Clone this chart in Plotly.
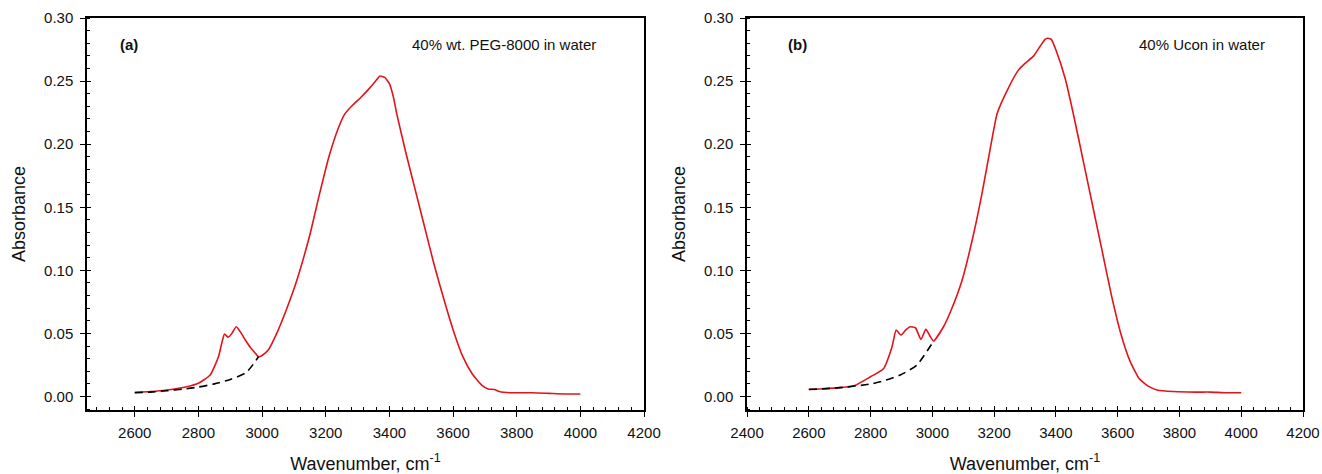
import plotly.graph_objects as go

# ---------- data ----------
# (a) 40% wt. PEG-8000 in water
wn_a = [2600, 2650, 2700, 2764, 2800, 2837, 2863, 2875, 2882, 2894, 2905, 2919, 2935, 2947, 2963,
        2980, 2989, 3000, 3020, 3046, 3075, 3109, 3150, 3180, 3210, 3240, 3260, 3285, 3310, 3340,
        3360, 3370, 3385, 3400, 3412, 3424, 3450, 3480, 3510, 3540, 3570, 3600, 3630, 3660, 3690,
        3710, 3730, 3745, 3780, 3850, 3900, 3950, 4000]
abs_a = [0.0033, 0.004, 0.0052, 0.0078, 0.0105, 0.017, 0.0315, 0.044, 0.0495, 0.047, 0.050, 0.0553, 0.050, 0.045, 0.039,
         0.034, 0.0315, 0.0325, 0.037, 0.050, 0.068, 0.092, 0.128, 0.160, 0.190, 0.213, 0.224, 0.231, 0.237, 0.245,
         0.251, 0.254, 0.253, 0.248, 0.238, 0.223, 0.195, 0.165, 0.135, 0.105, 0.078, 0.053, 0.032, 0.018, 0.009,
         0.006, 0.0055, 0.004, 0.003, 0.003, 0.0025, 0.002, 0.002]
base_wn_a = [2600, 2650, 2700, 2750, 2800, 2850, 2900, 2950, 2989]
base_a = [0.003, 0.0035, 0.0045, 0.0058, 0.0075, 0.0100, 0.0135, 0.0190, 0.0315]

# (b) 40% Ucon in water
wn_b = [2600, 2650, 2700, 2745, 2800, 2842, 2869, 2883, 2898, 2915, 2928, 2945, 2963, 2979, 2992,
        3004, 3036, 3060, 3096, 3130, 3160, 3190, 3210, 3244, 3278, 3300, 3328, 3350, 3365, 3372,
        3385, 3401, 3430, 3456, 3490, 3520, 3550, 3580, 3610, 3640, 3670, 3700, 3730, 3780, 3850,
        3900, 3950, 4000]
abs_b = [0.0057, 0.0062, 0.007, 0.0083, 0.0157, 0.022, 0.039, 0.0527, 0.0487, 0.053, 0.0553, 0.0545, 0.0453, 0.0532, 0.048,
         0.044, 0.0553, 0.068, 0.092, 0.125, 0.160, 0.200, 0.2245, 0.2435, 0.2585, 0.264, 0.270, 0.278, 0.283, 0.284,
         0.283, 0.274, 0.252, 0.2245, 0.185, 0.150, 0.115, 0.080, 0.050, 0.028, 0.014, 0.008, 0.005, 0.004, 0.0035,
         0.0035, 0.003, 0.003]
base_wn_b = [2600, 2700, 2800, 2850, 2896, 2950, 3004]
base_b = [0.0055, 0.007, 0.0099, 0.013, 0.017, 0.025, 0.044]

x_ticks = [2400, 2600, 2800, 3000, 3200, 3400, 3600, 3800, 4000, 4200]
y_ticks = [0.00, 0.05, 0.10, 0.15, 0.20, 0.25, 0.30]
labels = ["(a)", "(b)"]
notes = ["40% wt. PEG-8000 in water", "40% Ucon in water"]

RED = "#e3131b"
FONT = "Liberation Sans, Arial, sans-serif"
xr_a = [2450, 4200]
xr_b = [2400, 4200]
yr = [-0.0107, 0.30]

fig = go.Figure()
red_line = dict(color=RED, width=1.6, shape="spline", smoothing=0.5)
dash_line = dict(color="black", width=1.6, dash="8px,5px", shape="spline", smoothing=0.6)
fig.add_trace(go.Scatter(x=wn_a, y=abs_a, mode="lines", line=red_line,
                         xaxis="x", yaxis="y", showlegend=False))
fig.add_trace(go.Scatter(x=base_wn_a, y=base_a, mode="lines", line=dash_line,
                         xaxis="x3", yaxis="y3", showlegend=False))
fig.add_trace(go.Scatter(x=wn_b, y=abs_b, mode="lines", line=red_line,
                         xaxis="x2", yaxis="y2", showlegend=False))
fig.add_trace(go.Scatter(x=base_wn_b, y=base_b, mode="lines", line=dash_line,
                         xaxis="x4", yaxis="y4", showlegend=False))

tickfont = dict(family=FONT, size=15, color="#111")
titlefont = dict(family=FONT, size=18, color="#111")

def xmain(dom, rng):
    return dict(domain=dom, range=rng, tickvals=x_ticks, ticks="outside", ticklen=5, tickwidth=1.3,
                tickcolor="black", showline=True, linecolor="black", linewidth=1.5, mirror=True,
                showgrid=False, zeroline=False, tickfont=tickfont, automargin=False,
                ticklabelstandoff=3, ticklabeloverflow="allow",
                minor=dict(ticks="inside", dtick=40, tick0=2400, ticklen=3, tickwidth=1, tickcolor="black",
                           showgrid=False),
                title=dict(text="Wavenumber, cm<sup>-1</sup>", font=titlefont, standoff=18))

def ymain(dom, anchor):
    return dict(domain=dom, range=yr, anchor=anchor, tickvals=y_ticks, tickformat=".2f", ticks="outside",
                ticklen=5, tickwidth=1.3, tickcolor="black", showline=True, linecolor="black", linewidth=1.5,
                mirror=True, showgrid=False, zeroline=False, tickfont=tickfont, automargin=False,
                ticklabelstandoff=4,
                minor=dict(ticks="inside", dtick=0.01, tick0=0, ticklen=3, tickwidth=1, tickcolor="black",
                           showgrid=False),
                title=dict(text="Absorbance", font=titlefont, standoff=14))

def xover(base, rng):
    return dict(overlaying=base, range=rng, tickvals=x_ticks, ticks="inside", ticklen=4, tickwidth=1.3,
                tickcolor="black", showticklabels=False, showline=False, showgrid=False, zeroline=False,
                automargin=False)

def yover(base, rng, anchor):
    return dict(overlaying=base, range=rng, anchor=anchor, tickvals=y_ticks, ticks="inside", ticklen=4,
                tickwidth=1.3, tickcolor="black", showticklabels=False, showline=False, showgrid=False,
                zeroline=False, automargin=False)

dom_a = [0.0, 0.4581]
dom_b = [0.5428, 1.0]

fig.update_layout(
    width=1322, height=474, template="none",
    paper_bgcolor="white", plot_bgcolor="white",
    margin=dict(l=87, r=19, t=18, b=64),
    font=dict(family=FONT, color="#111"),
    xaxis=xmain(dom_a, xr_a),
    yaxis=ymain([0, 1], "x"),
    xaxis2=xmain(dom_b, xr_b),
    yaxis2=ymain([0, 1], "x2"),
    xaxis3=xover("x", xr_a),
    yaxis3=yover("y", yr, "x3"),
    xaxis4=xover("x2", xr_b),
    yaxis4=yover("y2", yr, "x4"),
    showlegend=False,
)
fig.update_layout(xaxis=dict(anchor="y"), xaxis2=dict(anchor="y2"),
                  xaxis3=dict(anchor="y3"), xaxis4=dict(anchor="y4"))

ann_pos = [("x", "y", 2548, 3465), ("x2", "y2", 2526, 3662)]
for (xr_, yr_, xl, xn), lab, note in zip(ann_pos, labels, notes):
    fig.add_annotation(x=xl, y=0.279, xref=xr_, yref=yr_, text="<b>" + lab + "</b>", showarrow=False,
                       xanchor="left", yanchor="middle", font=dict(family=FONT, size=15, color="#111"))
    fig.add_annotation(x=xn, y=0.279, xref=xr_, yref=yr_, text=note, showarrow=False,
                       xanchor="left", yanchor="middle", font=dict(family=FONT, size=15, color="#111"))

# remove the default page margin so the 1322x474 figure fills the window exactly
fig.write_html("out.html", config={"displayModeBar": False},
               post_script="document.body.style.margin='0';document.body.style.overflow='hidden';")
